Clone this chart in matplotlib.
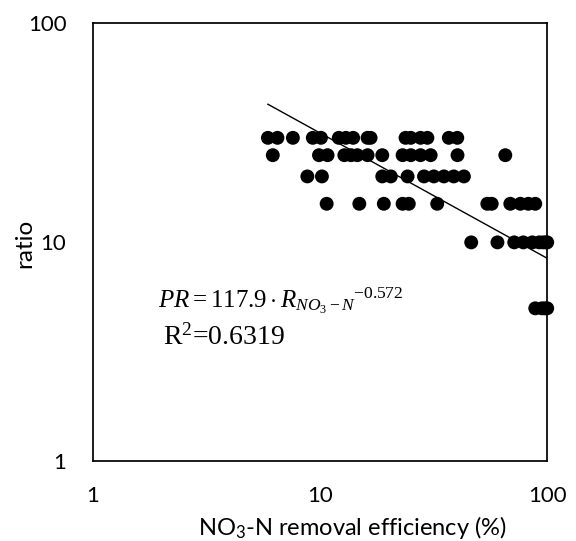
import matplotlib
matplotlib.use("Agg")
import matplotlib.pyplot as plt

plt.rcParams['mathtext.fontset'] = 'custom'
plt.rcParams['mathtext.rm'] = 'Liberation Serif'
plt.rcParams['mathtext.it'] = 'Liberation Serif:italic'

# NO3-N removal efficiency (%) for each ratio level
eff_30 = [5.9, 6.5, 7.6, 9.3, 10.1, 12.1, 13.0, 14.0, 16.2, 16.7, 23.8, 25.1, 27.7, 29.7, 36.9, 40.2]
eff_25 = [6.2, 9.9, 10.8, 12.8, 13.7, 14.6, 16.2, 18.8, 23.1, 25.1, 27.7, 30.7, 40.3, 65.4]
eff_20 = [8.8, 10.2, 18.8, 20.5, 24.3, 28.7, 31.7, 35.1, 38.8, 43.0]
eff_15 = [10.7, 14.9, 19.1, 23.1, 24.6, 32.8, 54.5, 57.0, 68.8, 76.2, 82.6, 88.6]
eff_10 = [46.3, 60.4, 71.6, 78.5, 86.0, 92.2, 96.0, 99.0, 100.0]
eff_5 = [88.6, 94.8, 98.0, 100.0]

ratio_levels = [30, 25, 20, 15, 10, 5]
eff_rows = [eff_30, eff_25, eff_20, eff_15, eff_10, eff_5]

# power trendline end points
fit_x = [5.9, 100]
fit_y = [42.7, 8.46]

fig = plt.figure(figsize=(5.76, 5.41), dpi=100)
ax = fig.add_axes([0.161, 0.147, 0.789, 0.810])

for r, effs in zip(ratio_levels, eff_rows):
    ax.scatter(effs, [r] * len(effs), s=100, color='black', edgecolors='none', zorder=3, clip_on=False)

ax.plot(fit_x, fit_y, color='black', lw=1.0, zorder=4)

ax.set_xscale('log')
ax.set_yscale('log')
ax.set_xlim(1, 100)
ax.set_ylim(1, 100)
ax.set_xticks([1, 10, 100])
ax.set_xticklabels(['1', '10', '100'])
ax.set_yticks([1, 10, 100])
ax.set_yticklabels(['1', '10', '100'])
ax.minorticks_off()
ax.tick_params(length=0, labelsize=16)
ax.tick_params(axis='y', pad=19)
ax.tick_params(axis='x', pad=18)
for lab in ax.get_xticklabels() + ax.get_yticklabels():
    lab.set_fontfamily('Lato')
for sp in ax.spines.values():
    sp.set_linewidth(1.25)

fig.text(25 / 576, 1 - 243 / 541, 'ratio', rotation=90, ha='center', va='center',
         fontsize=17.5, fontfamily='Lato')
fig.text(352 / 576, 1 - 535 / 541, r'NO$_\mathregular{3}$-N removal efficiency (%)',
         ha='center', va='baseline', fontsize=17, fontfamily='Lato')

ax.text(0.144, 0.350, r'$PR = 117.9\cdot R_{NO_3-N}{}^{-0.572}$', transform=ax.transAxes,
        ha='left', va='baseline', fontsize=18)
ax.text(0.154, 0.267, r'R$^\mathregular{2}$=0.6319', transform=ax.transAxes,
        ha='left', va='baseline', fontsize=20, fontfamily='Liberation Serif')

plt.savefig('out.png', dpi=100)
plt.close()
